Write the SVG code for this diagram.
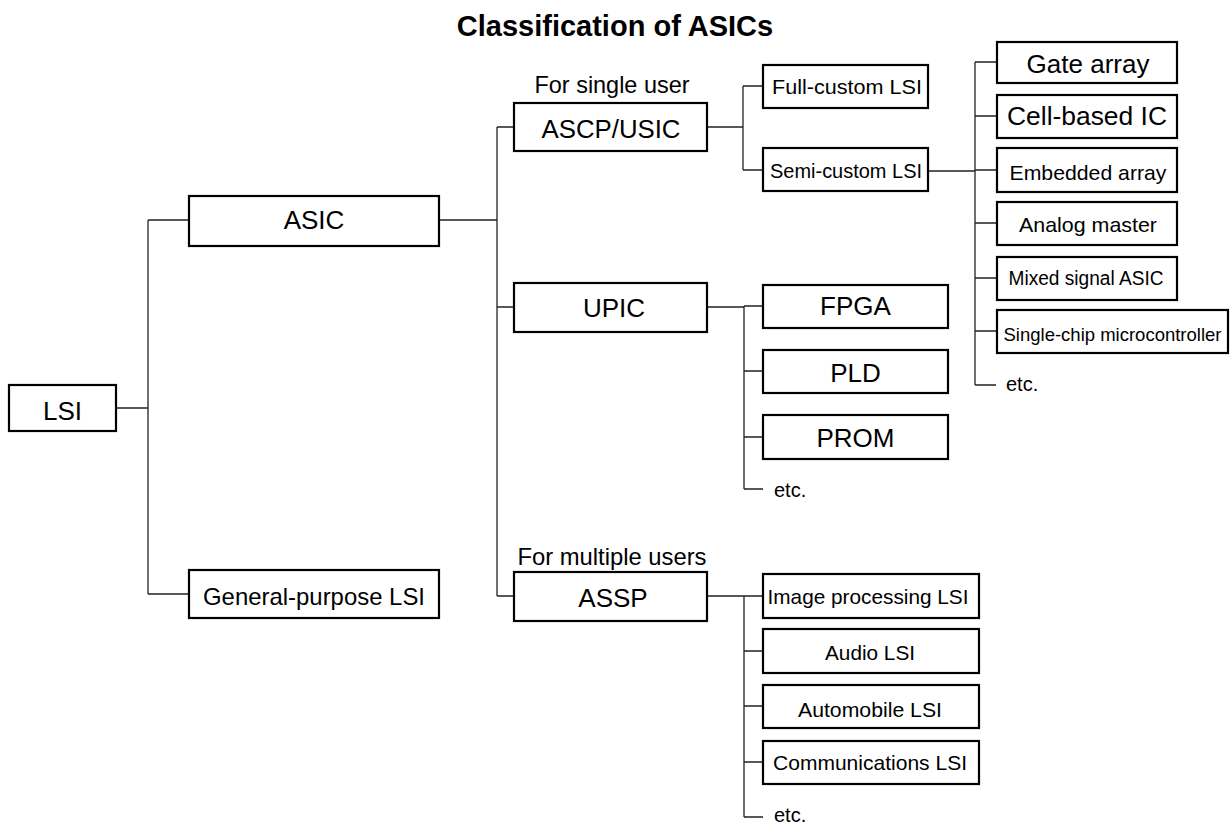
<svg xmlns="http://www.w3.org/2000/svg" width="1231" height="825" viewBox="0 0 1231 825">
<style>
.box{fill:#fff;stroke:#000;stroke-width:2.2}
.ln{fill:none;stroke:#222;stroke-width:1.3}
text{font-family:"Liberation Sans",Arial,Helvetica,sans-serif;fill:#000}
.t{text-anchor:middle}
.L{font-size:26px}
.M{font-size:24px}
.S{font-size:21px}
.e{font-size:20px}
.title{font-size:29px;font-weight:bold;text-anchor:middle}
</style>
<rect width="1231" height="825" fill="#fff"/>
<text class="title" x="615" y="36">Classification of ASICs</text>
<g id="connectors">
<path class="ln" d="M116 408H148M148 220V594M148 220H189M148 594H189"/>
<path class="ln" d="M439 220H497M497 127V596M497 127H514M497 307H514M497 596H514"/>
<path class="ln" d="M707 127H743M743 86V170M743 86H763M743 170H763"/>
<path class="ln" d="M928 171H975M975 62V385M975 62H997M975 116H997M975 170H997M975 223H997M975 278H997M975 331H997M975 385H996"/>
<path class="ln" d="M707 307H744M744 306V489M744 306H763M744 371H763M744 437H763M744 489H763"/>
<path class="ln" d="M707 596H744M744 596V817M744 596H763M744 651H763M744 706H763M744 762H763M744 817H763"/>
</g>
<g id="n-lsi"><rect class="box" x="9" y="385" width="107" height="46"/><text class="t L" x="62.5" y="420">LSI</text></g>
<g id="n-asic"><rect class="box" x="189" y="196" width="250" height="50"/><text class="t L" x="314" y="229">ASIC</text></g>
<g id="n-gp"><rect class="box" x="189" y="570" width="250" height="48"/><text class="t M" x="314" y="605" textLength="222" lengthAdjust="spacingAndGlyphs">General-purpose LSI</text></g>
<g id="l-single"><text class="t M" x="612" y="93" textLength="155" lengthAdjust="spacingAndGlyphs">For single user</text></g>
<g id="n-ascp"><rect class="box" x="514" y="103" width="193" height="48"/><text class="t L" x="611" y="138" textLength="139" lengthAdjust="spacingAndGlyphs">ASCP/USIC</text></g>
<g id="n-upic"><rect class="box" x="514" y="283" width="193" height="49"/><text class="t L" x="614" y="317">UPIC</text></g>
<g id="l-multi"><text class="t M" x="612" y="565" textLength="189" lengthAdjust="spacingAndGlyphs">For multiple users</text></g>
<g id="n-assp"><rect class="box" x="514" y="572" width="193" height="49"/><text class="t L" x="613" y="607">ASSP</text></g>
<g id="n-full"><rect class="box" x="763" y="65" width="165" height="43"/><text class="t S" x="847" y="94" textLength="150" lengthAdjust="spacingAndGlyphs">Full-custom LSI</text></g>
<g id="n-semi"><rect class="box" x="763" y="148" width="165" height="43"/><text class="t e" x="846" y="178" textLength="152" lengthAdjust="spacingAndGlyphs">Semi-custom LSI</text></g>
<g id="n-gate"><rect class="box" x="997" y="42" width="180" height="41"/><text class="t L" x="1088" y="73">Gate array</text></g>
<g id="n-cell"><rect class="box" x="997" y="95" width="180" height="43"/><text class="t L" x="1087" y="125" textLength="160" lengthAdjust="spacingAndGlyphs">Cell-based IC</text></g>
<g id="n-emb"><rect class="box" x="997" y="148" width="180" height="44"/><text class="t S" x="1088" y="180" textLength="157" lengthAdjust="spacingAndGlyphs">Embedded array</text></g>
<g id="n-analog"><rect class="box" x="997" y="202" width="180" height="43"/><text class="t S" x="1088" y="232" textLength="138" lengthAdjust="spacingAndGlyphs">Analog master</text></g>
<g id="n-mixed"><rect class="box" x="997" y="257" width="180" height="43"/><text class="t e" x="1086" y="285" textLength="155" lengthAdjust="spacingAndGlyphs">Mixed signal ASIC</text></g>
<g id="n-single"><rect class="box" x="997" y="310" width="231" height="43"/><text class="t" x="1112.5" y="341" font-size="18.5">Single-chip microcontroller</text></g>
<g id="l-etc1"><text class="e" x="1006" y="391">etc.</text></g>
<g id="n-fpga"><rect class="box" x="763" y="285" width="185" height="43"/><text class="t L" x="855.5" y="315">FPGA</text></g>
<g id="n-pld"><rect class="box" x="763" y="350" width="185" height="43"/><text class="t L" x="855.5" y="382">PLD</text></g>
<g id="n-prom"><rect class="box" x="763" y="415" width="185" height="44"/><text class="t L" x="855.5" y="447">PROM</text></g>
<g id="l-etc2"><text class="e" x="774" y="497">etc.</text></g>
<g id="n-img"><rect class="box" x="763" y="574" width="216" height="44"/><text class="t S" x="868" y="604" textLength="201" lengthAdjust="spacingAndGlyphs">Image processing LSI</text></g>
<g id="n-audio"><rect class="box" x="763" y="629" width="216" height="44"/><text class="t S" x="870" y="660" textLength="90" lengthAdjust="spacingAndGlyphs">Audio LSI</text></g>
<g id="n-auto"><rect class="box" x="763" y="685" width="216" height="43"/><text class="t S" x="870" y="717" textLength="144" lengthAdjust="spacingAndGlyphs">Automobile LSI</text></g>
<g id="n-comm"><rect class="box" x="763" y="741" width="216" height="43"/><text class="t S" x="870" y="770" textLength="194" lengthAdjust="spacingAndGlyphs">Communications LSI</text></g>
<g id="l-etc3"><text class="e" x="774" y="822">etc.</text></g>
</svg>
